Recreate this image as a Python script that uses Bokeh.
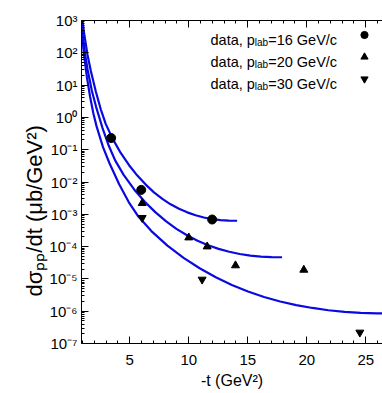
import math
from bokeh.plotting import figure
from bokeh.models import (Range1d, LinearAxis, FixedTicker, CustomJSTickFormatter,
                          Label, Legend, LegendItem, Title)
from bokeh.embed import file_html
from bokeh.resources import INLINE

# ---------------- data ----------------
# measured points, p_lab = 16, 20, 30 GeV/c
t16 = [3.42, 5.97, 11.98]
ds16 = [2.3e-1, 5.7e-3, 6.9e-4]
t20 = [6.05, 10.0, 11.56, 13.96, 19.75]
ds20 = [2.2e-3, 1.9e-4, 1.0e-4, 2.6e-5, 1.9e-5]
t30 = [6.05, 11.13, 24.5]
ds30 = [7.8e-4, 9.6e-6, 2.2e-7]

# model curves
c16_t = [0.85, 0.99, 1.13, 1.41, 1.69, 2.12, 2.54, 2.96, 3.53, 4.23, 4.94, 5.64,
         6.35, 7.05, 7.76, 8.46, 9.17, 9.87, 10.58, 11.28, 11.99, 12.69, 13.40, 14.10]
c16_ds = [3.16e3, 1.0e3, 3.98e2, 8.9e1, 2.82e1, 6.31, 1.78, 6.31e-1, 2.24e-1, 7.94e-2,
          3.31e-2, 1.58e-2, 8.32e-3, 4.79e-3, 3.02e-3, 2.04e-3, 1.48e-3, 1.15e-3,
          9.33e-4, 7.94e-4, 7.08e-4, 6.61e-4, 6.38e-4, 6.31e-4]
c20_t = [0.895, 1.07, 1.25, 1.43, 1.79, 2.15, 2.69, 3.22, 3.76, 4.48, 5.37, 6.27, 7.16,
         8.06, 8.95, 9.85, 10.74, 11.64, 12.53, 13.43, 14.32, 15.22, 16.11, 17.01, 17.9]
c20_ds = [9.33e2, 2.34e2, 7.41e1, 2.95e1, 6.61, 2.09, 4.68e-1, 1.32e-1, 4.68e-2, 1.66e-2,
          5.89e-3, 2.45e-3, 1.17e-3, 6.17e-4, 3.55e-4, 2.24e-4, 1.51e-4, 1.10e-4,
          8.51e-5, 6.92e-5, 5.89e-5, 5.25e-5, 4.90e-5, 4.73e-5, 4.68e-5]
c30_t = [0.90, 1.09, 1.37, 1.64, 1.91, 2.18, 2.73, 3.28, 4.10, 4.91, 5.73, 6.83, 8.19,
         9.56, 10.92, 12.29, 13.65, 15.02, 16.38, 17.75, 19.11, 20.48, 21.84, 23.21,
         24.57, 25.94, 26.5]
c30_ds = [6.31e2, 1.07e2, 1.70e1, 4.27, 1.35, 5.37e-1, 1.20e-1, 3.80e-2, 8.51e-3,
          2.40e-3, 8.51e-4, 3.02e-4, 1.07e-4, 4.47e-5, 2.14e-5, 1.12e-5, 6.46e-6,
          4.07e-6, 2.75e-6, 2.0e-6, 1.55e-6, 1.26e-6, 1.07e-6, 9.55e-7, 8.91e-7,
          8.61e-7, 8.51e-7]

x_major = [5, 10, 15, 20, 25]
x_minor = list(range(1, 27))
y_major = [10.0 ** e for e in range(-7, 4)]
y_minor = [k * 10.0 ** e for e in range(-7, 3) for k in range(2, 10)]
legend_p = ["16", "20", "30"]
x_title = "-t (GeV\u00b2)"
y_title = "d\u03c3\u209a\u209a/dt (\u03bcb/GeV\u00b2)"

# ---------------- layout ----------------
FONT = "Liberation Sans"
W, H = 382, 393
FL, FR, FT, FB = 81, 382, 20, 343
X0, X1 = 0.907, 26.42
Y0, Y1 = 1e-7, 1e3
BLUE = "#0a0ae0"

p = figure(width=W, height=H, x_range=Range1d(X0, X1), y_range=Range1d(Y0, Y1),
           y_axis_type="log", output_backend="svg", toolbar_location=None,
           min_border_left=FL, min_border_right=W - FR, min_border_top=FT,
           min_border_bottom=H - FB)
p.outline_line_color = None
p.grid.visible = False
p.background_fill_color = "white"
p.border_fill_color = "white"

xt = FixedTicker(ticks=x_major, minor_ticks=x_minor)
yt = FixedTicker(ticks=y_major, minor_ticks=y_minor)

def style(ax):
    ax.axis_line_color = "black"
    ax.axis_line_width = 1
    ax.major_tick_in = 7
    ax.major_tick_out = 0
    ax.minor_tick_in = 3
    ax.minor_tick_out = 0
    ax.major_tick_line_color = "black"
    ax.minor_tick_line_color = "black"
    ax.major_label_text_font = FONT
    ax.major_label_text_font_size = "15px"
    ax.major_label_text_color = "black"

xa = p.xaxis[0]
xa.ticker = xt
style(xa)
xa.major_label_standoff = 11
xa.axis_label = x_title
xa.axis_label_text_font = FONT
xa.axis_label_text_font_size = "16px"
xa.axis_label_text_font_style = "normal"
xa.axis_label_text_color = "black"
xa.axis_label_standoff = 4

ya = p.yaxis[0]
ya.ticker = yt
style(ya)
ya.major_label_standoff = 4
ya.formatter = CustomJSTickFormatter(code="""
const sup = {"0":"\u2070","1":"\u00b9","2":"\u00b2","3":"\u00b3","4":"\u2074",
             "5":"\u2075","6":"\u2076","7":"\u2077","8":"\u2078","9":"\u2079","-":"\u207b"};
const e = Math.round(Math.log10(tick));
return "10" + String(e).split("").map(c => sup[c]).join("");
""")

top = LinearAxis(ticker=xt)
style(top)
top.formatter = CustomJSTickFormatter(code="return '';")
top.major_label_standoff = 0
p.add_layout(top, "above")

# y-axis title placed in the left panel, shifted down like the reference
yt_title = Title(text=y_title, align="left", offset=47, standoff=0,
                 text_font=FONT, text_font_size="22px", text_font_style="normal",
                 text_color="black")
p.add_layout(yt_title, "left")

# curves
p.line(c16_t, c16_ds, line_color=BLUE, line_width=2.2)
p.line(c20_t, c20_ds, line_color=BLUE, line_width=2.2)
p.line(c30_t, c30_ds, line_color=BLUE, line_width=2.2)

# data
r16 = p.scatter(t16, ds16, marker="circle", size=9, color="black")
r20 = p.scatter(t20, ds20, marker="triangle", size=8, color="black")
r30 = p.scatter(t30, ds30, marker="inverted_triangle", size=8, color="black")

# ---------------- text helpers ----------------
AW = {' ': 278, ',': 278, '-': 333, '.': 278, '/': 278, '=': 584, '(': 333, ')': 333,
      'G': 778, 'V': 667, 'a': 556, 'b': 556, 'c': 500, 'd': 556, 'e': 556, 'l': 222,
      'p': 556, 't': 278}
def tw(s, size):
    return sum(AW.get(ch, 556) for ch in s) * size / 1000.0

def fx(px):
    return X0 + (px - FL) * (X1 - X0) / (FR - FL)

def fy(py):
    return 10 ** (3 - (py - FT) * 10.0 / (FB - FT))

def lab(px, py, text, size):
    p.add_layout(Label(x=fx(px), y=fy(py), text=text, text_font=FONT,
                       text_font_size=f"{size}px", text_color="black",
                       text_baseline="alphabetic", text_align="left"))

# legend text
LF, LS = 14.5, 10
for i, pl in enumerate(legend_p):
    base = 39.3 + 22 * i
    x = 210
    lab(x, base, "data, p", LF)
    x += tw("data, p", LF)
    lab(x, base + 3, "lab", LS)
    x += tw("lab", LS)
    lab(x, base, "=" + pl + " GeV/c", LF)

# legend symbols
leg = Legend(items=[LegendItem(label=" ", renderers=[r]) for r in (r16, r20, r30)],
             location=(274, 254), glyph_width=18, glyph_height=21, spacing=1,
             padding=0, label_standoff=0, label_width=0, label_text_font_size="10px",
             border_line_color=None, background_fill_alpha=0)
p.add_layout(leg, "center")

open("out.html", "w").write(file_html(p, INLINE))
